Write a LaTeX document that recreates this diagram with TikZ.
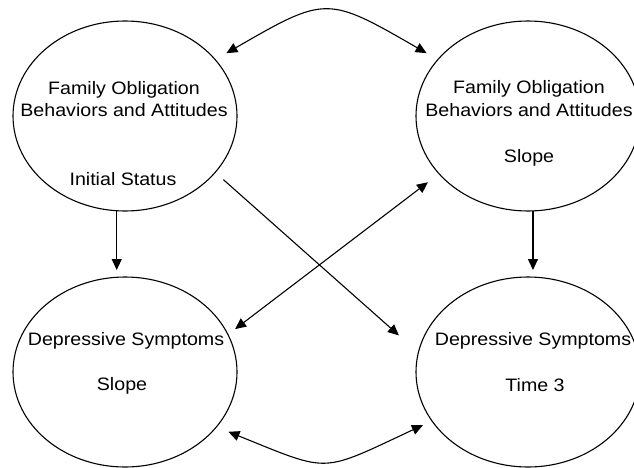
\documentclass[tikz,border=0pt]{standalone}
\usepackage{fontspec}
\setmainfont[FakeStretch=1.09]{Liberation Sans}
\usetikzlibrary{arrows.meta,shapes.geometric}
\begin{document}
\begin{tikzpicture}[x=1pt,y=1pt,
  latent/.style={draw, ellipse, line width=1.1pt, minimum width=224pt, minimum height=190pt, inner sep=0pt, outer sep=0pt},
  lbl/.style={anchor=base, inner sep=0pt, font=\fontsize{18}{22}\selectfont},
  tip/.tip={Triangle[length=11pt,width=10pt]},
  pathar/.style={line width=1.1pt, -tip},
  covar/.style={line width=1.1pt, tip-tip}]
\useasboundingbox (0,0) rectangle (634,-468);
\node[latent] (TL) at (125,-116) {};
\node[latent] (TR) at (528,-116) {};
\node[latent] (BL) at (125,-372) {};
\node[latent] (BR) at (528,-372) {};
\node[lbl] (tl1) at (124,-95) {Family Obligation};
\node[lbl] (tl2) at (124,-117) {Behaviors and Attitudes};
\node[lbl] (tl3) at (123,-185) {Initial Status};
\node[lbl] (tr1) at (529,-94) {Family Obligation};
\node[lbl] (tr2) at (529,-117) {Behaviors and Attitudes};
\node[lbl] (tr3) at (529,-162) {Slope};
\node[lbl] (bl1) at (126,-345) {Depressive Symptoms};
\node[lbl] (bl2) at (122,-390) {Slope};
\node[lbl] (br1) at (533,-345) {Depressive Symptoms};
\node[lbl] (br2) at (535,-391) {Time 3};
\draw[covar, shorten <=13pt, shorten >=13pt] (TL.32) to[out=30,in=150,distance=128pt] (TR.148);
\draw[covar, shorten <=13pt, shorten >=10pt] (BL.-31) to[out=-22,in=-155,distance=124pt] (BR.-153);
\draw[pathar, shorten <=11pt, shorten >=26pt] (TL.-32) -- (BR.170);
\draw[covar, shorten <=9pt, shorten >=14pt] (BL.20) -- (TR.-147);
\draw[pathar, shorten >=7pt] (TL.-95) -- (TL.-95 |- BL.north);
\draw[pathar, shorten >=7pt] (TR.-87) -- (TR.-87 |- BR.north);
\end{tikzpicture}
\end{document}
